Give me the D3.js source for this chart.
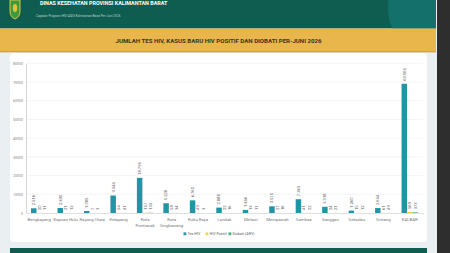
<!DOCTYPE html>
<html>
<head>
<meta charset="utf-8">
<script src="https://cdn.jsdelivr.net/npm/d3@7"></script>
<style>
  body { margin: 0; background: #2e2e2e; }
  svg { display: block; font-family: Roboto, "Noto Sans", sans-serif; }
</style>
</head>
<body>
<div id="container"></div>
<script>
let categories = ["Bengkayang", "Kapuas Hulu", "Kayong Utara", "Ketapang", "Kota Pontianak",
  "Kota Singkawang", "Kubu Raya", "Landak", "Melawi", "Mempawah", "Sambas", "Sanggau",
  "Sekadau", "Sintang", "KALBAR"];
let tesHiv = [2516, 2690, 1085, 9344, 18795, 5228, 6760, 2888, 1656, 3575, 7363, 3318, 1260, 2654, 69065];
let hivPositif = [20, 21, 7, 54, 157, 58, 49, 22, 13, 27, 41, 24, 15, 61, 569];
let diobati = [11, 12, 3, 41, 133, 34, 3, 16, 11, 16, 22, 21, 12, 49, 373];
let seriesNames = ["Tes HIV", "HIV Positif", "Diobati (ARV)"];
let seriesColors = ["#2394a5", "#f2d44e", "#4cae7c"];
let yTicks = [0, 10000, 20000, 30000, 40000, 50000, 60000, 70000, 80000];

let w = 450;
let h = 253;

let viz = d3.select("#container")
  .append("svg")
  .attr("width", w)
  .attr("height", h);

// page background
viz.append("rect").attr("x", 0).attr("y", 0).attr("width", 437).attr("height", h).attr("fill", "#eaf0f2");
viz.append("rect").attr("x", 437).attr("y", 0).attr("width", 13).attr("height", h).attr("fill", "#2e2e2e");

// header
viz.append("clipPath").attr("id", "hclip")
  .append("rect").attr("x", 0).attr("y", 0).attr("width", 436).attr("height", 28.5);
viz.append("rect").attr("x", 0).attr("y", 0).attr("width", 436).attr("height", 28.5).attr("fill", "#0f5d50");
viz.append("circle").attr("cx", 440).attr("cy", 8).attr("r", 52)
  .attr("fill", "#13706a").attr("clip-path", "url(#hclip)");

// logo
viz.append("path")
  .attr("d", "M10,0 L20,0 L20,11 Q20,17 15,19 Q10,17 10,11 Z")
  .attr("fill", "#3f9a3c").attr("stroke", "#d9c440").attr("stroke-width", 1);
viz.append("ellipse").attr("cx", 15).attr("cy", 8).attr("rx", 2.2).attr("ry", 4).attr("fill", "#d9c440");

viz.append("text").attr("x", 40).attr("y", 4.6)
  .attr("font-size", 5.4).attr("font-weight", "bold").attr("fill", "#ffffff")
  .text("DINAS KESEHATAN PROVINSI KALIMANTAN BARAT");
viz.append("text").attr("x", 36).attr("y", 16.6)
  .attr("font-size", 3.2).attr("fill", "#b8d2c8")
  .text("Capaian Program HIV/AIDS Kalimantan Barat Per-Juni 2026");

// yellow title band
viz.append("rect").attr("x", 0).attr("y", 28.5).attr("width", 436).attr("height", 23.5).attr("fill", "#e8b64a");
viz.append("rect").attr("x", 0).attr("y", 51.5).attr("width", 436).attr("height", 0.8).attr("fill", "#b89035");
viz.append("text").attr("x", 218.5).attr("y", 43.4).attr("text-anchor", "middle")
  .attr("font-size", 6.1).attr("font-weight", "bold").attr("fill", "#3a3320")
  .text("JUMLAH TES HIV, KASUS BARU HIV POSITIF DAN DIOBATI PER-JUNI 2026");

// card
viz.append("rect").attr("x", 10).attr("y", 53).attr("width", 417).attr("height", 189)
  .attr("rx", 4).attr("fill", "#ffffff");
viz.append("rect").attr("x", 10).attr("y", 248).attr("width", 417).attr("height", 5).attr("fill", "#0f5d50");

// scales
let xScale = d3.scaleBand().domain(categories).range([26, 423]).paddingInner(0.38).paddingOuter(0.19);
let x1 = d3.scaleBand().domain(seriesNames).range([0, xScale.bandwidth()]);
let yScale = d3.scaleLinear().domain([0, 80000]).range([213, 63.3]);

// grid
viz.append("g").selectAll("line").data(yTicks.slice(1)).enter()
  .append("line")
  .attr("x1", 26).attr("x2", 423)
  .attr("y1", d => yScale(d)).attr("y2", d => yScale(d))
  .attr("stroke", "#eeeeee").attr("stroke-width", 0.6);

// y axis
let yAxis = d3.axisLeft(yScale).tickValues(yTicks).tickSize(0).tickPadding(3).tickFormat(d3.format("d"));
let yAxisGroup = viz.append("g").attr("transform", "translate(26,0)").call(yAxis);
yAxisGroup.select(".domain").attr("stroke", "#cccccc").attr("stroke-width", 0.8);
yAxisGroup.selectAll("text").attr("font-size", 3.6).attr("fill", "#888888").attr("font-family", "Roboto, sans-serif");

// x axis
let xAxis = d3.axisBottom(xScale).tickSize(0).tickPadding(5);
let xAxisGroup = viz.append("g").attr("transform", "translate(0,213)").call(xAxis);
xAxisGroup.select(".domain").attr("stroke", "#cccccc").attr("stroke-width", 0.6);
xAxisGroup.selectAll("text").remove();
xAxisGroup.selectAll(".tick").append("line")
  .attr("x1", xScale.step() / 2).attr("x2", xScale.step() / 2)
  .attr("y1", 0).attr("y2", 1.5).attr("stroke", "#cccccc").attr("stroke-width", 0.5);

// category labels (two lines for "Kota ...")
let catLabels = viz.append("g").selectAll("text").data(categories).enter()
  .append("text")
  .attr("x", d => xScale(d) + xScale.bandwidth() / 2)
  .attr("y", 221)
  .attr("text-anchor", "middle")
  .attr("font-size", 4.3).attr("fill", "#777777");
catLabels.each(function(d) {
  let parts = d.startsWith("Kota ") ? ["Kota", d.slice(5)] : [d];
  let t = d3.select(this);
  parts.forEach(function(p, i) {
    t.append("tspan").attr("x", t.attr("x")).attr("dy", i == 0 ? 0 : 5.6).text(p);
  });
});

// bars
let allSeries = [tesHiv, hivPositif, diobati];
let fmt = d3.formatLocale({decimal: ",", thousands: ".", grouping: [3], currency: ["", ""]}).format(",d");

allSeries.forEach(function(values, s) {
  let g = viz.append("g");
  g.selectAll("rect").data(values).enter()
    .append("rect")
    .attr("x", (d, i) => xScale(categories[i]) + x1(seriesNames[s]))
    .attr("y", d => yScale(d))
    .attr("width", x1.bandwidth())
    .attr("height", d => 213 - yScale(d))
    .attr("fill", seriesColors[s]);

  g.selectAll("text").data(values).enter()
    .append("text")
    .attr("transform", function(d, i) {
      let cx = xScale(categories[i]) + x1(seriesNames[s]) + x1.bandwidth() / 2 + 1.4;
      let cy = yScale(d) - 3;
      return "translate(" + cx + "," + cy + ") rotate(-90)";
    })
    .attr("font-size", 4.1).attr("fill", "#555555")
    .text(d => fmt(d));
});

// legend
let legendX = [183.5, 205.5, 228.5];
let legend = viz.append("g").selectAll("g").data(seriesNames).enter()
  .append("g")
  .attr("transform", (d, i) => "translate(" + legendX[i] + ",235)");
legend.append("rect").attr("x", 0).attr("y", -2.6).attr("width", 2.8).attr("height", 2.8)
  .attr("fill", (d, i) => seriesColors[i]);
legend.append("text").attr("x", 4).attr("y", 0)
  .attr("font-size", 3.7).attr("fill", "#666666")
  .text(d => d);
</script>
</body>
</html>
